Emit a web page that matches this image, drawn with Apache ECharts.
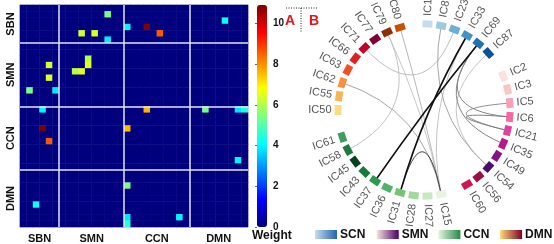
<!DOCTYPE html>
<html>
<head>
<meta charset="UTF-8">
<title>Connectivity</title>
<script src="https://cdn.jsdelivr.net/npm/echarts@6/dist/echarts.min.js"></script>
<style>
    body { margin: 0; background: #fff; }
    #chart { width: 554px; height: 244px; }
</style>
</head>
<body>
<div id="chart"></div>
<script>
// nodes of each network, in matrix order
const groupNames = ['SBN', 'SMN', 'CCN', 'DMN'];
const legendNames = ['SCN', 'SMN', 'CCN', 'DMN'];
const sbnNodes = ['IC1', 'IC8', 'IC23', 'IC33', 'IC69', 'IC87'];
const smnNodes = ['IC2', 'IC3', 'IC5', 'IC6', 'IC21', 'IC35', 'IC49', 'IC54', 'IC56', 'IC60'];
const ccnNodes = ['IC15', 'IC27', 'IC28', 'IC31', 'IC36', 'IC37', 'IC43', 'IC45', 'IC58', 'IC61'];
const dmnNodes = ['IC50', 'IC55', 'IC62', 'IC63', 'IC66', 'IC71', 'IC77', 'IC79', 'IC80'];

// non-zero weights (upper triangle): [row, col, weight]
const edges = [
    [1, 13, 5.3], [4, 9, 6.3], [4, 11, 6.4], [5, 13, 3.9],
    [3, 16, 4.0], [3, 19, 10.9], [4, 21, 8.6], [2, 31, 4.2],
    [8, 10, 6.0], [9, 10, 6.5], [16, 19, 7.6], [16, 28, 5.3],
    [16, 33, 3.8], [16, 34, 4.5], [24, 33, 4.0]
];
const weightMax = 10.9;
const colorbarTicks = [0, 2, 4, 6, 8, 10];

// styles
const jet = ['#00007f', '#0000ff', '#007fff', '#00ffff', '#7fff7f', '#ffff00', '#ff7f00', '#ff0000', '#7f0000'];
const nodeColors = [
    ['#c6dbef', '#9ecae1', '#6baed6', '#4292c6', '#2171b5', '#08519c'],
    ['#fde0dd', '#fcc5c0', '#fa9fb5', '#f768a1', '#e040a0', '#b8188c', '#861084', '#4c0c6e', '#9c1048', '#d01454'],
    ['#e5f5e0', '#c7e9c0', '#a1d99b', '#74c476', '#4cb36a', '#2a9a50', '#137a3a', '#07421e', '#1e7a3e', '#3f9e5e'],
    ['#fbdc86', '#f9b552', '#f89040', '#f05022', '#e02020', '#c00028', '#820030', '#8e3004', '#c85204']
];
const legendGradients = [['#c6dbef', '#2166ac'], ['#fde0dd', '#49006a'], ['#e5f5e0', '#238b45'], ['#fed976', '#800026']];

const groups = [sbnNodes, smnNodes, ccnNodes, dmnNodes];
const allNodes = [].concat(...groups);
const n = allNodes.length;

// group boundaries / centres in matrix index units
const bounds = [0];
groups.forEach(g => bounds.push(bounds[bounds.length - 1] + g.length));
const centers = groupNames.map((_, i) => (bounds[i] + bounds[i + 1]) / 2);

// full symmetric matrix for the heatmap
const matrix = [];
for (let r = 0; r < n; r++) matrix.push(new Array(n).fill(0));
edges.forEach(([r, c, w]) => { matrix[r][c] = w; matrix[c][r] = w; });
const heatData = [];
for (let r = 0; r < n; r++) {
    for (let c = 0; c < n; c++) heatData.push([c, r, matrix[r][c]]);
}

// circle order (clockwise from 3 o'clock), one empty slot between networks
const ring = [].concat(smnNodes.slice(3), ['gap0'], ccnNodes, ['gap1'], dmnNodes, ['gap2'], sbnNodes, ['gap3'], smnNodes.slice(0, 3));
const colorOf = {};
groups.forEach((g, gi) => g.forEach((name, i) => { colorOf[name] = nodeColors[gi][i]; }));
const slotDeg = 360 / ring.length;
const graphNodes = ring.map((name, k) => {
    const rot = 90 - (k + 0.5) * slotDeg;
    if (name.startsWith('gap')) {
        return { name: name, itemStyle: { opacity: 0 }, label: { show: false } };
    }
    return { name: name, symbolRotate: rot, itemStyle: { color: colorOf[name] } };
});

function linkColor(w) {
    const ws = [3.5, 5.5, 7.0, 8.3];
    const gs = [205, 160, 110, 15];
    let g = gs[0];
    if (w >= ws[ws.length - 1]) g = gs[gs.length - 1];
    else {
        for (let i = 0; i < ws.length - 1; i++) {
            if (w >= ws[i] && w < ws[i + 1]) {
                g = gs[i] + (gs[i + 1] - gs[i]) * (w - ws[i]) / (ws[i + 1] - ws[i]);
            }
        }
    }
    g = Math.round(g);
    return 'rgb(' + g + ',' + g + ',' + g + ')';
}
const graphLinks = edges.slice().sort((a, b) => a[2] - b[2]).map(([r, c, w]) => ({
    source: allNodes[r],
    target: allNodes[c],
    lineStyle: { color: linkColor(w), width: w > 8 ? 1.6 : 1 }
}));

// legend graphics
const legendGraphics = [];
legendNames.forEach((name, i) => {
    const x = 315 + i * 61.7;
    legendGraphics.push({
        type: 'rect', left: x, top: 230, shape: { width: 22, height: 9 },
        style: { fill: new echarts.graphic.LinearGradient(0, 0, 1, 0, [
            { offset: 0, color: legendGradients[i][0] }, { offset: 1, color: legendGradients[i][1] }]) }
    });
    legendGraphics.push({
        type: 'text', left: x + 25, top: 229,
        style: { text: name, font: 'bold 12px "Liberation Sans", Arial', fill: '#111' }
    });
});

const labelFont = { fontFamily: '"Liberation Sans", Arial', fontWeight: 'bold', fontSize: 11, color: '#111' };
const gridRect = { left: 20, top: 5, width: 228, height: 222 };

const chart = echarts.init(document.getElementById('chart'));
chart.setOption({
    animation: false,
    grid: [
        Object.assign({}, gridRect),
        Object.assign({ show: true, borderColor: '#c8c8d8', borderWidth: 1 }, gridRect),
        { left: 257, top: 5, width: 10, height: 222 }
    ],
    xAxis: [
        { type: 'category', gridIndex: 0, data: allNodes, show: false },
        {
            type: 'value', gridIndex: 1, min: 0, max: n,
            axisLine: { show: false }, axisTick: { show: false }, splitLine: { show: false },
            axisLabel: Object.assign({
                customValues: centers, margin: 6,
                formatter: v => groupNames[centers.indexOf(v)]
            }, labelFont)
        },
        { type: 'value', gridIndex: 2, show: false, min: 0, max: 1 }
    ],
    yAxis: [
        { type: 'category', gridIndex: 0, data: allNodes, inverse: true, show: false },
        {
            type: 'value', gridIndex: 1, min: 0, max: n, inverse: true,
            axisLine: { show: false }, axisTick: { show: false }, splitLine: { show: false },
            axisLabel: Object.assign({
                customValues: centers, margin: 4, rotate: 90,
                formatter: v => groupNames[centers.indexOf(v)]
            }, labelFont)
        },
        {
            type: 'value', gridIndex: 2, min: 0, max: weightMax, position: 'right',
            axisLine: { show: false }, splitLine: { show: false },
            axisTick: { show: true, inside: true, length: 2, customValues: colorbarTicks, lineStyle: { color: '#666' } },
            axisLabel: Object.assign({}, labelFont, { customValues: colorbarTicks, margin: 6, fontSize: 10 })
        }
    ],
    visualMap: {
        type: 'continuous', seriesIndex: 0, min: 0, max: weightMax,
        calculable: false, orient: 'vertical', left: 257, top: 5, padding: 0,
        itemWidth: 10, itemHeight: 222, text: null, showLabel: false,
        hoverLink: false,
        inRange: { color: jet }
    },
    graphic: [
        { type: 'text', left: 252, top: 230, style: { text: 'Weight', font: 'bold 12px "Liberation Sans", Arial', fill: '#111' } },
        { type: 'text', left: 285, top: 14, style: { text: 'A', font: 'bold 14px "Liberation Sans", Arial', fill: '#e0161b' } },
        { type: 'text', left: 309, top: 14, style: { text: 'B', font: 'bold 14px "Liberation Sans", Arial', fill: '#e0161b' } },
        { type: 'line', shape: { x1: 286, y1: 8, x2: 318, y2: 8 }, style: { stroke: '#222', lineWidth: 1, lineDash: [1, 1.5] } },
        { type: 'line', shape: { x1: 301, y1: 8, x2: 301, y2: 33 }, style: { stroke: '#222', lineWidth: 1, lineDash: [1, 1.5] } }
    ].concat(legendGraphics),
    series: [
        {
            type: 'heatmap', xAxisIndex: 0, yAxisIndex: 0, data: heatData,
            emphasis: { disabled: true }, silent: true
        },
        {
            type: 'line', xAxisIndex: 1, yAxisIndex: 1, data: [], silent: true,
            markLine: {
                silent: true, symbol: 'none', animation: false,
                label: { show: false },
                lineStyle: { color: '#e4e4ee', width: 1.5, type: 'solid' },
                data: bounds.slice(1, -1).map(b => ({ xAxis: b }))
                    .concat(bounds.slice(1, -1).map(b => ({ yAxis: b })))
            }
        },
        {
            type: 'graph', layout: 'circular', silent: true,
            circular: { rotateLabel: true },
            left: 338, top: 24, width: 172, height: 172,
            symbol: 'rect', symbolSize: [10, 7],
            label: { show: true, position: 'right', distance: 3, fontSize: 11, color: '#555', fontFamily: '"Liberation Sans", Arial' },
            lineStyle: { curveness: 0.3333, opacity: 1 },
            data: graphNodes,
            links: graphLinks
        }
    ]
});
</script>
</body>
</html>
